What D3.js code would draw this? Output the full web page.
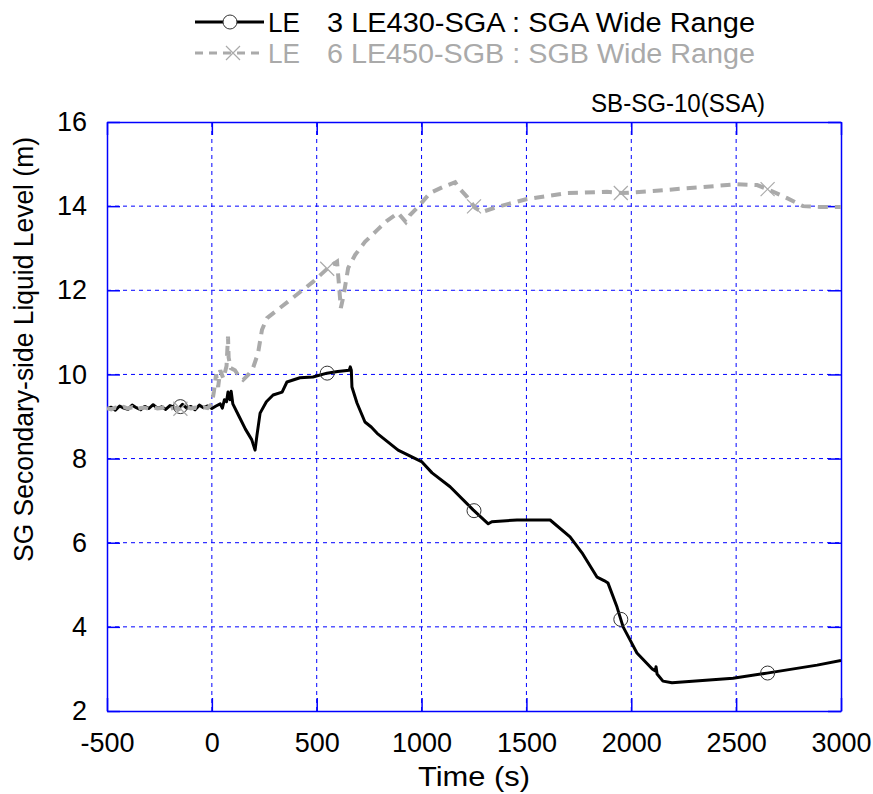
<!DOCTYPE html>
<html>
<head>
<meta charset="utf-8">
<script src="https://cdn.jsdelivr.net/npm/d3@7"></script>
<style>
  body { margin: 0; background: #fff; }
  svg { display: block; }
</style>
</head>
<body>
<div id="chart"></div>
<script>
// SGA wide range level (black)
const sgaTime = [-500,-480,-460,-440,-420,-400,-380,-360,-340,-320,-300,-280,-260,-240,-220,-200,-180,-160,-140,-120,-100,-80,-60,-40,-20,0,
  20,40,50,60,70,77,86,92,100,130,160,190,206,215,230,260,292,335,358,420,482,549,600,655,660,665,668,692,730,760,788,888,
  1002,1050,1136,1246,1318,1335,1455,1613,1708,1765,1837,1870,1889,1932,1961,1994,2027,2100,2115,2118,2123,2151,2194,2485,2647,2886,3000];
const sgaLevel = [9.18,9.22,9.15,9.25,9.2,9.17,9.27,9.21,9.16,9.24,9.19,9.28,9.2,9.23,9.17,9.26,9.22,9.18,9.29,9.2,9.24,9.16,9.27,9.21,9.25,9.19,
  9.25,9.3,9.2,9.4,9.35,9.58,9.4,9.6,9.3,9.0,8.7,8.45,8.2,8.55,9.08,9.35,9.51,9.58,9.82,9.92,9.94,10.03,10.07,10.1,10.18,10.1,9.7,9.32,8.87,8.75,8.6,8.2,
  7.92,7.66,7.33,6.78,6.45,6.5,6.54,6.54,6.14,5.76,5.18,5.1,5.04,4.47,4.0,3.69,3.38,3.0,2.95,3.05,2.88,2.71,2.67,2.78,2.9,3.09,3.2];

// SGB wide range level (grey dashed)
const sgbTime = [-500,-480,-460,-440,-420,-400,-380,-360,-340,-320,-300,-280,-260,-240,-220,-200,-180,-160,-140,-120,-100,-80,-60,-40,-20,0,
  10,20,30,40,55,70,77,80,90,110,130,149,175,196,220,239,263,373,482,554,597,605,615,625,635,650,683,730,788,835,888,925,945,983,
  1040,1100,1160,1175,1217,1255,1288,1360,1503,1693,1884,1956,2104,2328,2504,2600,2652,2743,2819,2900,3000];
const sgbLevel = [9.2,9.17,9.21,9.18,9.23,9.19,9.22,9.16,9.2,9.21,9.18,9.22,9.19,9.2,9.23,9.18,9.21,9.17,9.2,9.22,9.19,9.21,9.18,9.22,9.2,9.3,
  9.6,10.0,9.7,10.1,9.9,10.2,10.9,10.4,10.15,10.1,9.95,9.87,10.0,10.15,10.5,11.06,11.34,11.77,12.2,12.53,12.68,12.2,11.58,11.8,12.08,12.53,12.84,13.15,13.43,13.65,13.84,13.62,13.79,13.98,
  14.31,14.45,14.57,14.45,14.22,13.96,13.86,13.98,14.17,14.31,14.34,14.31,14.36,14.45,14.52,14.5,14.4,14.19,14.0,13.98,13.98];

const markerTimes = [-150, 550, 1250, 1950, 2650];
const xTicks = [-500, 0, 500, 1000, 1500, 2000, 2500, 3000];
const yTicks = [2, 4, 6, 8, 10, 12, 14, 16];

const width = 873, height = 794;
const margin = {top: 122, right: 32, bottom: 83, left: 107};
const plotW = width - margin.left - margin.right;
const plotH = height - margin.top - margin.bottom;

const svg = d3.select("#chart").append("svg")
    .attr("width", width)
    .attr("height", height);

const x = d3.scaleLinear().domain([-500, 3000]).range([margin.left, margin.left + plotW]);
const y = d3.scaleLinear().domain([2, 16]).range([margin.top + plotH, margin.top]);

const blue = "#0000ff";
const sansFont = "'Liberation Sans', Arial, sans-serif";
const narrowFont = "'Liberation Sans Narrow', 'Liberation Sans', Arial, sans-serif";

// grid
const grid = svg.append("g");
grid.selectAll(".vgrid").data(xTicks.slice(1, -1)).enter().append("line")
    .attr("x1", d => x(d)).attr("x2", d => x(d))
    .attr("y1", y(2)).attr("y2", y(16))
    .attr("stroke", blue).attr("stroke-width", 1).attr("stroke-dasharray", "4,4");
grid.selectAll(".hgrid").data(yTicks.slice(1, -1)).enter().append("line")
    .attr("x1", x(-500)).attr("x2", x(3000))
    .attr("y1", d => y(d)).attr("y2", d => y(d))
    .attr("stroke", blue).attr("stroke-width", 1).attr("stroke-dasharray", "4,4");

// axes with inward ticks
const tickFmt = d => String(d).replace("\u2212", "-");
const axisB = svg.append("g").attr("transform", `translate(0,${y(2)})`)
    .call(d3.axisBottom(x).tickValues(xTicks).tickSizeInner(-13).tickSizeOuter(0).tickPadding(22).tickFormat(tickFmt));
const axisT = svg.append("g").attr("transform", `translate(0,${y(16)})`)
    .call(d3.axisTop(x).tickValues(xTicks).tickSizeInner(-13).tickSizeOuter(0).tickFormat(""));
const axisL = svg.append("g").attr("transform", `translate(${x(-500)},0)`)
    .call(d3.axisLeft(y).tickValues(yTicks).tickSizeInner(-13).tickSizeOuter(0).tickPadding(20).tickFormat(tickFmt));
const axisR = svg.append("g").attr("transform", `translate(${x(3000)},0)`)
    .call(d3.axisRight(y).tickValues(yTicks).tickSizeInner(-13).tickSizeOuter(0).tickFormat(""));
[axisB, axisT, axisL, axisR].forEach(a => {
    a.select(".domain").attr("stroke", blue).attr("stroke-width", 1.5);
    a.selectAll(".tick line").attr("stroke", blue).attr("stroke-width", 1.5);
    a.selectAll("text").attr("fill", "#000").style("font-family", sansFont).style("font-size", "27px");
});

// data lines
const clip = svg.append("clipPath").attr("id", "plotclip").append("rect")
    .attr("x", x(-500)).attr("y", y(16)).attr("width", plotW).attr("height", plotH);
const plot = svg.append("g").attr("clip-path", "url(#plotclip)");

const sgaData = sgaTime.map((t, i) => ({t: t, v: sgaLevel[i]}));
const sgbData = sgbTime.map((t, i) => ({t: t, v: sgbLevel[i]}));
const line = d3.line().x(d => x(d.t)).y(d => y(d.v));

plot.append("path").datum(sgaData).attr("d", line)
    .attr("fill", "none").attr("stroke", "#000").attr("stroke-width", 3).attr("stroke-linejoin", "round");
plot.append("path").datum(sgbData).attr("d", line)
    .attr("fill", "none").attr("stroke", "#aaaaaa").attr("stroke-width", 4).attr("stroke-dasharray", "10,7");

// markers sit on the curves
function valueAt(data, t) {
    const i = d3.bisector(d => d.t).left(data, t);
    if (i <= 0) return data[0].v;
    const a = data[i - 1], b = data[i];
    return a.v + (b.v - a.v) * (t - a.t) / (b.t - a.t);
}
plot.selectAll(".circ").data(markerTimes).enter().append("circle")
    .attr("cx", d => x(d)).attr("cy", d => y(valueAt(sgaData, d)))
    .attr("r", 7).attr("fill", "none").attr("stroke", "#333").attr("stroke-width", 1);
function cross(g, cx, cy, s) {
    g.append("path").attr("d", `M${cx - s},${cy - s}L${cx + s},${cy + s}M${cx - s},${cy + s}L${cx + s},${cy - s}`)
        .attr("stroke", "#aaaaaa").attr("stroke-width", 1.2).attr("fill", "none");
}
markerTimes.forEach(t => cross(plot, x(t), y(valueAt(sgbData, t)), 7));

// legend
const leg = svg.append("g");
leg.append("line").attr("x1", 195).attr("x2", 264).attr("y1", 22).attr("y2", 22)
    .attr("stroke", "#000").attr("stroke-width", 3);
leg.append("circle").attr("cx", 230).attr("cy", 22).attr("r", 7)
    .attr("fill", "#fff").attr("stroke", "#333").attr("stroke-width", 1);
leg.append("line").attr("x1", 195).attr("x2", 264).attr("y1", 53).attr("y2", 53)
    .attr("stroke", "#aaaaaa").attr("stroke-width", 3).attr("stroke-dasharray", "8,6");
cross(leg, 233, 53, 7);

function label(g, txt, xx, yy, len, size, color) {
    return g.append("text").attr("x", xx).attr("y", yy).text(txt)
        .attr("textLength", len).attr("lengthAdjust", "spacingAndGlyphs")
        .style("font-family", narrowFont).style("font-size", size + "px").attr("fill", color);
}
label(leg, "LE", 268, 32, 32, 27, "#000");
label(leg, "3 LE430-SGA : SGA Wide Range", 327, 32, 428, 27, "#000");
label(leg, "LE", 268, 63, 32, 27, "#aaaaaa");
label(leg, "6 LE450-SGB : SGB Wide Range", 327, 63, 428, 27, "#aaaaaa");

// case title
label(svg, "SB-SG-10(SSA)", 591, 112, 174, 26, "#000");

// axis titles
label(svg, "Time (s)", 418, 786, 112, 27, "#000");
label(svg, "SG Secondary-side Liquid Level (m)", 0, 0, 425, 27, "#000")
    .attr("transform", "translate(33,562) rotate(-90)");
</script>
</body>
</html>
